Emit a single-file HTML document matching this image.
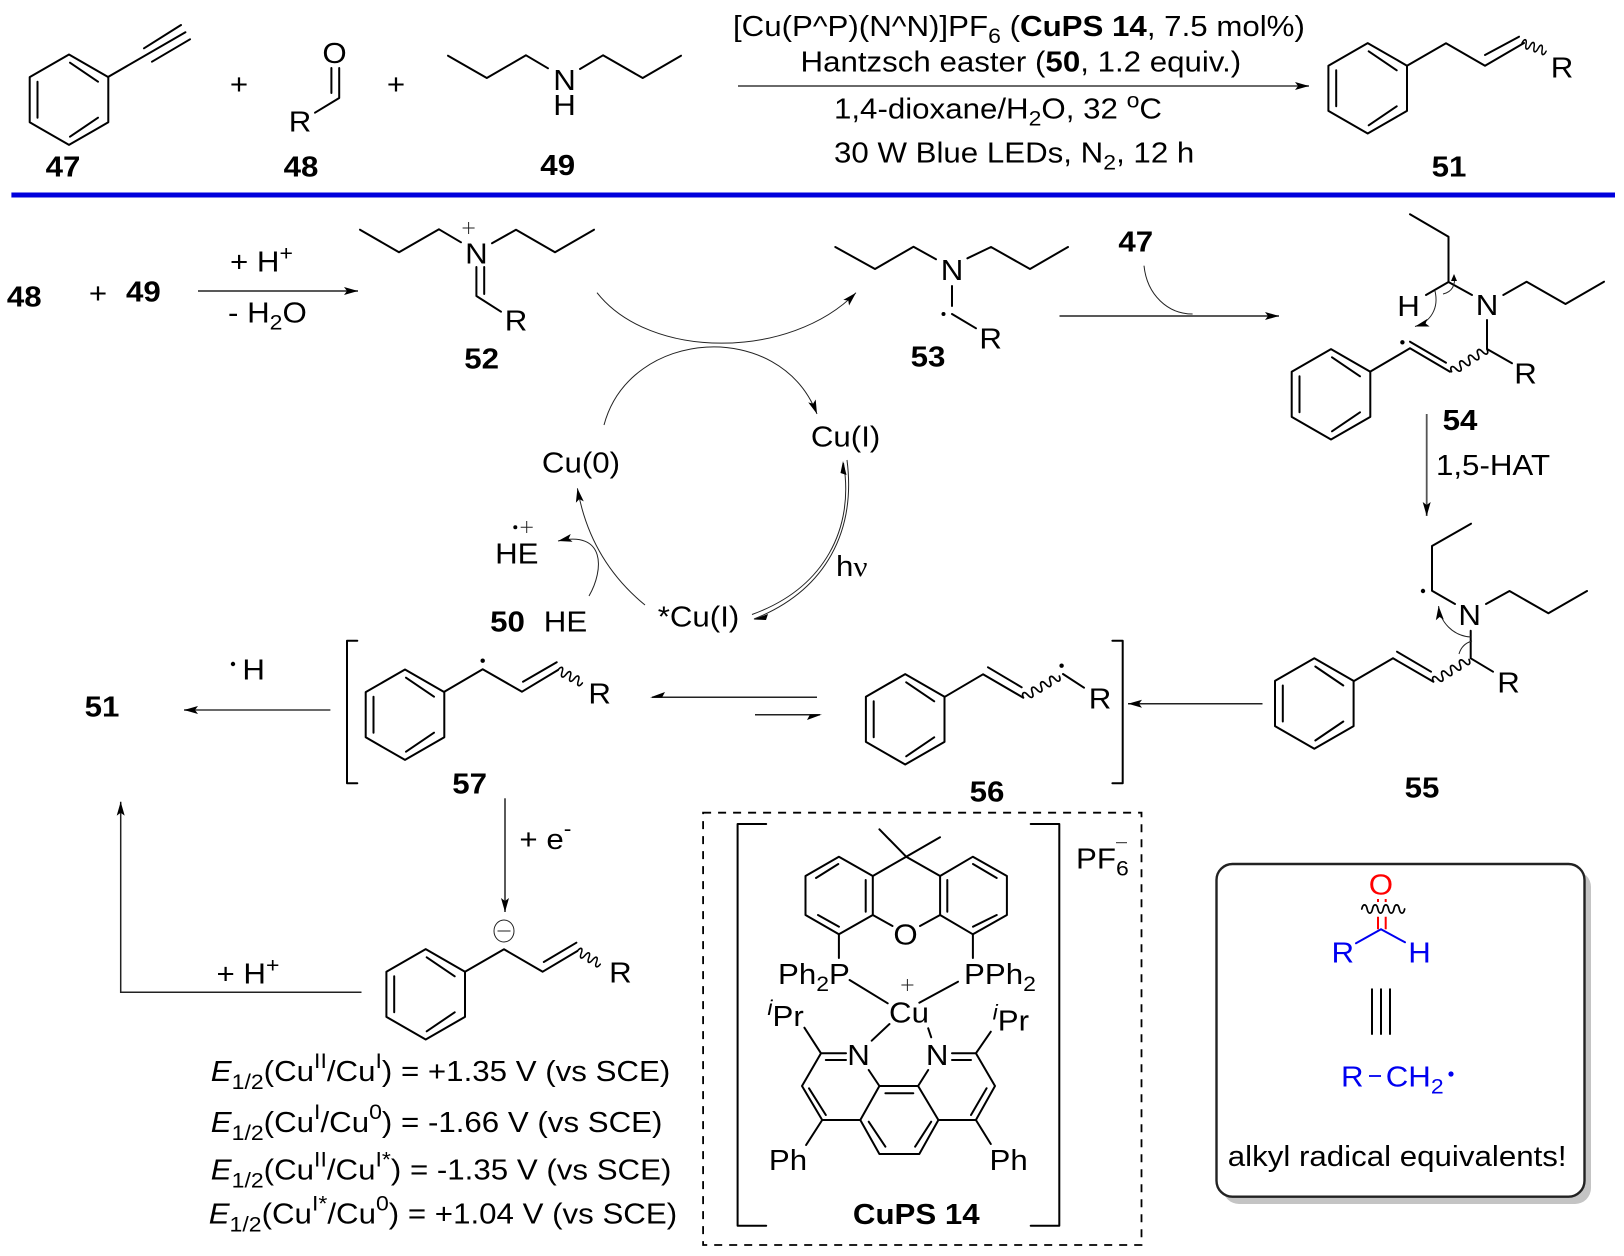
<!DOCTYPE html>
<html><head><meta charset="utf-8"><style>
html,body{margin:0;padding:0;background:#fff}
svg{display:block}
text{font-family:"Liberation Sans",sans-serif;font-size:28.5px;fill:#000;transform:scaleX(1.097);transform-box:fill-box;transform-origin:0 50%}
.c{text-anchor:middle;transform-origin:50% 50%}
.b{font-weight:bold}
.s{stroke:#000;stroke-width:2;fill:none;stroke-linecap:round;stroke-linejoin:round}
.w{stroke:#000;stroke-width:1.7;fill:none;stroke-linecap:round}
.a{stroke:#222;stroke-width:1.5;fill:none}
.g{stroke:#555;stroke-width:1.8;fill:none}
.t{stroke:#222;stroke-width:1;fill:none}
</style></head><body>
<svg xmlns="http://www.w3.org/2000/svg" width="1624" height="1256" viewBox="0 0 1624 1256">
<defs>
<g id="bz" class="s"><path d="M0 -45.2L39.3 -22.6V22.6L0 45.2L-39.3 22.6V-22.6Z"/><path d="M1 -37L29 -18M-31.5 -18V18M1 37L29 18"/></g>
<path id="w6" class="w" d="M0 0c1 -5.5 4 -5.5 5 0c1 5.5 4 5.5 5 0c1 -5.5 4 -5.5 5 0c1 5.5 4 5.5 5 0c1 -5.5 4 -5.5 5 0c1 5.5 4 5.5 5 0"/>
<path id="w8" class="w" d="M0 0c1 -5.5 4.25 -5.5 5.25 0c1 5.5 4.25 5.5 5.25 0c1 -5.5 4.25 -5.5 5.25 0c1 5.5 4.25 5.5 5.25 0c1 -5.5 4.25 -5.5 5.25 0c1 5.5 4.25 5.5 5.25 0c1 -5.5 4.25 -5.5 5.25 0c1 5.5 4.25 5.5 5.25 0"/>
<marker id="h" markerUnits="userSpaceOnUse" markerWidth="16" markerHeight="10" refX="14" refY="5" orient="auto"><path d="M0 1L14 5L0 9L3 5Z" fill="#000"/></marker>
<marker id="m" markerUnits="userSpaceOnUse" markerWidth="16" markerHeight="12" refX="14" refY="6" orient="auto"><path d="M0 2L14 6L0 10L3 6Z" fill="#000"/></marker>
</defs>

<!-- top reaction -->
<use href="#bz" x="69" y="99.7"/>
<path class="s" d="M108 77L185.4 32.3M144 48.3L181 25M152 61.7L190 39.3"/>
<text class="c" x="239" y="94">+</text>
<text class="c" x="334.5" y="63">O</text>
<path class="s" d="M331.4 68V93M339.2 68V98L315 112.7"/>
<text class="c" x="300" y="131.7">R</text>
<text class="c" x="396" y="94">+</text>
<path class="s" d="M448 55.7L486.8 78L526 55.3L548 68.3M580 69L603 55.3L642.7 78L681 55.7"/>
<text class="c" x="564.5" y="90">N</text>
<text class="c" x="564.5" y="115">H</text>
<text class="c b" x="63" y="176.7">47</text>
<text class="c b" x="301" y="176.7">48</text>
<text class="c b" x="557.7" y="175">49</text>

<text x="733" y="36">[Cu(P^P)(N^N)]PF<tspan dy="7" font-size="21">6</tspan><tspan dy="-7"> (</tspan><tspan font-weight="bold">CuPS 14</tspan>, 7.5 mol%)</text>
<text x="800.5" y="71.7">Hantzsch easter (<tspan font-weight="bold">50</tspan>, 1.2 equiv.)</text>
<line class="g" x1="738" y1="86" x2="1309" y2="86" marker-end="url(#h)"/>
<text x="834" y="118.3">1,4-dioxane/H<tspan dy="7" font-size="21">2</tspan><tspan dy="-7">O, 32 </tspan><tspan dy="-11" font-size="21">o</tspan><tspan dy="11">C</tspan></text>
<text x="834" y="162.3">30 W Blue LEDs, N<tspan dy="7" font-size="21">2</tspan><tspan dy="-7">, 12 h</tspan></text>

<use href="#bz" x="1367.7" y="88.3"/>
<path class="s" d="M1407 65.7L1446 43.3L1485 65.7L1524 43M1485 55L1519 36.7"/>
<use href="#w6" transform="translate(1522 43) rotate(19) scale(.85 1)"/>
<text class="c" x="1562" y="77.3">R</text>
<text class="c b" x="1449" y="176.7">51</text>

<rect x="11.4" y="192.5" width="1603.6" height="5" fill="#0000dc"/>

<!-- second row -->
<text class="c b" x="24.3" y="306.7">48</text>
<text class="c" x="98" y="303">+</text>
<text class="c b" x="143.4" y="301.7">49</text>
<text x="230" y="271.7">+ H<tspan dy="-11" font-size="21">+</tspan></text>
<line class="a" x1="198" y1="291" x2="358" y2="291" marker-end="url(#h)"/>
<text x="228" y="322.7">- H<tspan dy="7" font-size="21">2</tspan><tspan dy="-7">O</tspan></text>

<path class="s" d="M360 229.7L399 252.3L439 229.3L461 242.3M492 243.3L516 229.7L555 252.3L594 229.7"/>
<text class="c" x="476.4" y="263.3">N</text>
<path class="t" d="M468.6 222V234M462.6 228H474.6"/>
<path class="s" d="M476.4 267V296L501 311.7M484.2 267V294"/>
<text class="c" x="516" y="330.7">R</text>
<text class="c b" x="481.6" y="368.3">52</text>

<path class="t" d="M597 292.7C650 360 790 360 856 292.7" marker-end="url(#m)"/>
<path class="t" d="M604 425C630 328 780 318 817 414" marker-end="url(#m)"/>

<path class="s" d="M835.3 247L875 269L913.5 246.7L936 259.3M967.4 258.3L991 247L1030 269L1068 247M952 286V306M952 314L976 328.3"/>
<text class="c" x="952" y="280">N</text>
<circle cx="943.5" cy="314" r="2"/>
<text class="c" x="990.7" y="348.3">R</text>
<text class="c b" x="928" y="366.7">53</text>

<text class="c b" x="1135.7" y="251.7">47</text>
<path class="t" d="M1144 265.7C1147 295 1168 314 1192.6 314"/>
<line class="a" x1="1059.5" y1="316" x2="1279" y2="316" marker-end="url(#h)"/>

<!-- 54 -->
<path class="s" d="M1410 214.3L1448.5 236.7V282L1472 295M1448.5 282L1426 295M1503.3 295L1526.6 281.7L1565.5 304L1604 281.7M1487 320V349L1512 363.3M1410 348.3L1450 371.7M1410 341.7L1446 362.7M1410 348.3L1370 371.7"/>
<text class="c" x="1408.6" y="316">H</text>
<text class="c" x="1487" y="315">N</text>
<text class="c" x="1525.6" y="383.3">R</text>
<circle cx="1402.4" cy="342.3" r="2.2"/>
<use href="#w8" transform="translate(1451.6 371.7) rotate(-32.7)"/>
<use href="#bz" x="1331" y="394.3"/>
<path class="t" d="M1435 291C1439 308 1431 322 1415 326.5" marker-end="url(#m)"/>
<path class="t" d="M1443 294C1452 292 1456 285 1454 275"/>
<path d="M1454 274L1451 281H1457Z"/>
<text class="c b" x="1460" y="430">54</text>
<line class="g" x1="1426.7" y1="414" x2="1426.7" y2="516" marker-end="url(#h)"/>
<text x="1436" y="475">1,5-HAT</text>

<!-- 55 -->
<path class="s" d="M1471 523.7L1432 546V590.7L1455 604M1486 604L1509.5 591L1548.4 613.3L1587 591M1470.7 630.7V658.3L1493 671.7M1393 658.3L1433.4 681.7M1397 651.7L1431 671.7M1393 658.3L1354 681"/>
<circle cx="1423" cy="591" r="2.2"/>
<text class="c" x="1469.7" y="625">N</text>
<text class="c" x="1508.5" y="692.7">R</text>
<use href="#w8" transform="translate(1433.4 681.7) rotate(-32)"/>
<use href="#bz" x="1314.3" y="703.5"/>
<path class="t" d="M1470.7 637C1453 636 1440 622 1438.6 606" marker-end="url(#m)"/>
<path class="t" d="M1459 654C1461 647 1465 643 1472 641"/>
<text class="c b" x="1422" y="797.3">55</text>

<line class="a" x1="1262.5" y1="703.7" x2="1128" y2="703.7" marker-end="url(#h)"/>

<!-- 56 -->
<use href="#bz" x="905.2" y="719.3"/>
<path class="s" d="M945 696.7L983 674.3L1023.3 697.7M988 667.3L1021.7 687.3M1063 674L1084 687.7"/>
<use href="#w8" transform="translate(1023.3 697.7) rotate(-31)"/>
<circle cx="1061.6" cy="665.7" r="2.2"/>
<text class="c" x="1100" y="708.3">R</text>
<path class="s" d="M1112.4 640.7H1122.7V783.3H1112.4"/>
<text class="c b" x="987" y="801.7">56</text>

<path class="a" d="M817 697.3H652"/><path d="M650 697.5L665 692L662 697.5Z"/>
<path class="a" d="M755 714.7H820"/><path d="M822 714.5L807 720L810 714.5Z"/>

<!-- 57 -->
<path class="s" d="M357.3 640.7H347V783.3H357.3"/>
<use href="#bz" x="405" y="714.7"/>
<path class="s" d="M444.3 691.7L482.7 669.3L522 691.7L558 670M523 681.7L556.7 662.3"/>
<use href="#w6" transform="translate(558 670) rotate(28) scale(.92 1)"/>
<circle cx="482.7" cy="660.7" r="2.2"/>
<text class="c" x="599.7" y="703.3">R</text>
<text class="c b" x="469.7" y="793.3">57</text>
<line class="g" x1="330.4" y1="710" x2="184" y2="710" marker-end="url(#h)"/>
<text class="c b" x="102" y="716.7">51</text>
<circle cx="233" cy="664" r="2.2"/>
<text class="c" x="253.7" y="679.3">H</text>

<!-- cycle -->
<text class="c" x="845.6" y="446.7">Cu(I)</text>
<text class="c" x="581" y="472.7">Cu(0)</text>
<text class="c" x="516.8" y="563.3">HE</text>
<circle cx="515.3" cy="527.3" r="2"/>
<path class="t" d="M526.7 521V533M520.7 527.3H532.7"/>
<path class="t" d="M589 596C604 570 606 530 558 541" marker-end="url(#m)"/>
<path class="t" d="M645 605Q590 560 577.4 488.3" marker-end="url(#m)"/>
<text class="c b" x="507.5" y="631.7">50</text>
<text class="c" x="565.5" y="631.7">HE</text>
<text x="657.7" y="626.7">*Cu(I)</text>
<path class="t" d="M847 460C856 530 827 590 754 619"/>
<path class="t" d="M843.5 463C854.5 528 825 588 752 614.5"/>
<path d="M843 461L846.5 475L840.5 473Z"/><path d="M753.5 619.5L768 614L766 620Z"/>
<text x="836" y="576">h<tspan font-family="Liberation Serif">ν</tspan></text>

<!-- anion -->
<line class="a" x1="505" y1="798.3" x2="505" y2="912" marker-end="url(#h)"/>
<text x="519.4" y="849">+ e<tspan dy="-13" font-size="21">-</tspan></text>
<ellipse cx="504" cy="931" rx="10" ry="11" fill="none" stroke="#222" stroke-width="1"/>
<path class="t" d="M497.5 931H510.5"/>
<use href="#bz" x="425.7" y="994.3"/>
<path class="s" d="M465 971.7L504 949.3L542.7 971.7L577.4 951M543.8 962L576.4 942.7"/>
<use href="#w6" transform="translate(577.4 951) rotate(30) scale(.88 1)"/>
<text class="c" x="620.4" y="982.7">R</text>
<text x="216.5" y="983.3">+ H<tspan dy="-11" font-size="21">+</tspan></text>
<path class="a" d="M361.5 992.3H120.7V801.7" marker-end="url(#h)"/>

<text x="210.8" y="1081"><tspan font-style="italic">E</tspan><tspan dy="8" font-size="21">1/2</tspan><tspan dy="-8">(Cu</tspan><tspan dy="-13" font-size="21">II</tspan><tspan dy="13">/Cu</tspan><tspan dy="-13" font-size="21">I</tspan><tspan dy="13">) = +1.35 V (vs SCE)</tspan></text>
<text x="210.8" y="1132"><tspan font-style="italic">E</tspan><tspan dy="8" font-size="21">1/2</tspan><tspan dy="-8">(Cu</tspan><tspan dy="-13" font-size="21">I</tspan><tspan dy="13">/Cu</tspan><tspan dy="-13" font-size="21">0</tspan><tspan dy="13">) = -1.66 V (vs SCE)</tspan></text>
<text x="210.8" y="1179.3"><tspan font-style="italic">E</tspan><tspan dy="8" font-size="21">1/2</tspan><tspan dy="-8">(Cu</tspan><tspan dy="-13" font-size="21">II</tspan><tspan dy="13">/Cu</tspan><tspan dy="-13" font-size="21">I*</tspan><tspan dy="13">) = -1.35 V (vs SCE)</tspan></text>
<text x="208.7" y="1223.7"><tspan font-style="italic">E</tspan><tspan dy="8" font-size="21">1/2</tspan><tspan dy="-8">(Cu</tspan><tspan dy="-13" font-size="21">I*</tspan><tspan dy="13">/Cu</tspan><tspan dy="-13" font-size="21">0</tspan><tspan dy="13">) = +1.04 V (vs SCE)</tspan></text>

<!-- CuPS box -->
<rect x="703.1" y="812.7" width="438.4" height="432.3" fill="none" stroke="#000" stroke-width="1.8" stroke-dasharray="8 7"/>
<path class="s" d="M766.2 824H737.6V1225.7H766.2M1030.7 824H1059.3V1225.7H1030.7"/>
<text x="1076" y="868.3">PF<tspan dy="7" font-size="21">6</tspan></text>
<path class="t" d="M1116 842.7H1127"/>
<path class="s" d="M906.2 856.7L879.4 829.3M906.2 856.7L940 837.3M906.2 856.7L872.8 876L838.9 856.7L805.5 876V915L838.9 934.3L872.8 915V876M906.2 856.7L940.1 876L972.9 856.7L1006.9 876V915L972.9 934.3L940.1 915V876M872.8 915L892.5 926M940.1 915L920 926"/>
<path class="s" d="M865.7 880V911.7M947.3 880V911.7M838.3 864L816 878M818 915L839 926.7M973 864L996.7 878M996.7 915L973 926.7"/>
<text class="c" x="905.6" y="944.3">O</text>
<path class="s" d="M838.9 934.3V958M972.9 934.3V958M849.6 980L887.7 1003.3M958 981.7L919.3 1002.7"/>
<text x="778" y="984">Ph<tspan dy="7" font-size="21">2</tspan><tspan dy="-7">P</tspan></text>
<text x="964" y="984">PPh<tspan dy="7" font-size="21">2</tspan></text>
<path class="t" d="M907.4 979V991M901.4 985H913.4"/>
<text class="c" x="909" y="1022.7">Cu</text>
<path class="s" d="M889.5 1024L871.7 1040.7M928.2 1028.3L931.2 1037.3"/>
<text x="767.4" y="1026"><tspan dy="-11" font-size="21" font-style="italic">i</tspan><tspan dy="11">Pr</tspan></text>
<text x="992.6" y="1030.7"><tspan dy="-11" font-size="21" font-style="italic">i</tspan><tspan dy="11">Pr</tspan></text>
<text class="c" x="858.6" y="1065">N</text>
<text class="c" x="937.2" y="1065">N</text>
<path class="s" d="M821 1053.3H846M825.8 1060H846M952 1053.3H975.9M952 1060H971M804.4 1027.7L821 1053.3L802 1086L822.2 1120H860.3L879.4 1086L868.7 1070M809 1088.3L825.8 1115M879.4 1086H918.1L928.2 1070M885.4 1093.3H913.3M918.1 1086L938.4 1120H975.9L995 1086L975.9 1053.3L990.8 1031.7M986.6 1088.3L971 1115M860.3 1120L879.4 1154H919.3L938.4 1120M868.7 1121.7L885.4 1146.7M931.2 1121.7L915.1 1146.7M822.2 1120L806.1 1145M975.9 1120L990.8 1144"/>
<text class="c" x="788" y="1170">Ph</text>
<text class="c" x="1008.6" y="1170">Ph</text>
<text class="c b" x="916.3" y="1224">CuPS 14</text>

<!-- right box -->
<rect x="1223" y="871" width="368" height="333" rx="16" fill="#c4c4c4"/>
<rect x="1216.5" y="864" width="368" height="332.7" rx="16" fill="#fff" stroke="#222" stroke-width="2.4"/>
<text class="c" x="1380.9" y="894.3" style="fill:#f00">O</text>
<path d="M1378 899V902M1385.7 899V902M1378 916.7V929.3M1385.7 916.7V929.3" stroke="#f00" stroke-width="2" fill="none"/>
<use href="#w8" transform="translate(1361.8 909) scale(1.02 1)"/>
<path d="M1381 929.3L1356 943.3M1381 929.3L1405 942.3" stroke="#0000f0" stroke-width="2" fill="none" stroke-linecap="round"/>
<text class="c" x="1342.8" y="962.3" style="fill:#0000f0">R</text>
<text class="c" x="1419.6" y="962.3" style="fill:#0000f0">H</text>
<path class="s" d="M1372 989.3V1034M1381 989.3V1034M1390 989.3V1034"/>
<text x="1341" y="1086.7" style="fill:#0000f0">R</text>
<path d="M1369 1076H1381" stroke="#0000f0" stroke-width="1.8"/>
<text x="1385.7" y="1086.7" style="fill:#0000f0">CH<tspan dy="7" font-size="21" style="fill:#0000f0">2</tspan></text>
<circle cx="1451" cy="1074" r="2.6" fill="#0000f0"/>
<text x="1227.8" y="1166">alkyl radical equivalents!</text>
</svg>
</body></html>
